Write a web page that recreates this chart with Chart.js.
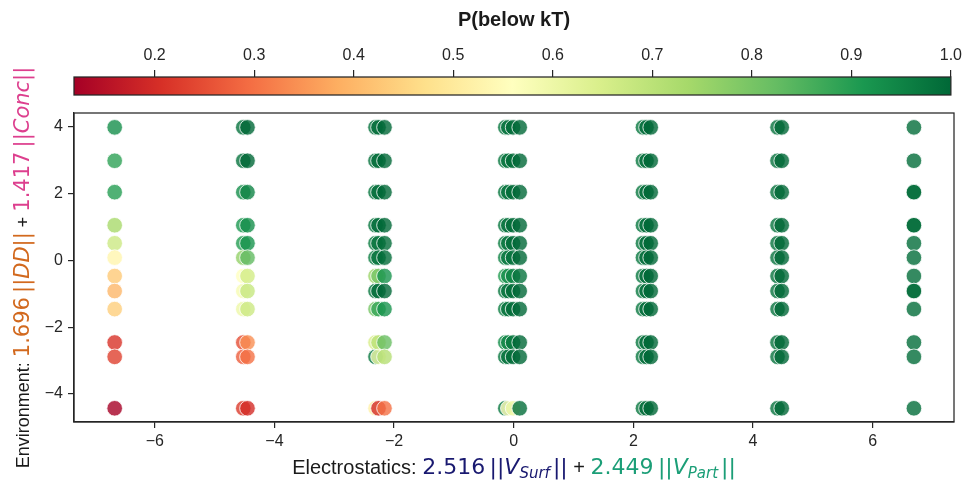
<!DOCTYPE html>
<html>
<head>
<meta charset="utf-8">
<script src="https://cdn.jsdelivr.net/npm/chart.js@4.4.1/dist/chart.umd.min.js"></script>
<style>
html, body { margin: 0; padding: 0; background: #fff; }
#wrap { position: relative; width: 967px; height: 481px; }
#mainBox { position: absolute; left: 0; top: 0; width: 967px; height: 481px; }
#cbBox { position: absolute; left: 0; top: 0; width: 967px; height: 100px; z-index: 2; }
</style>
</head>
<body>
<div id="wrap">
  <div id="mainBox"><canvas id="main"></canvas></div>
  <div id="cbBox"><canvas id="cb"></canvas></div>
</div>
<script>
// livelli y (dall'alto in basso)
const yLevels = [3.98, 2.98, 2.04, 1.05, 0.51, 0.08, -0.47, -0.92, -1.46, -2.46, -2.89, -4.43];

// posizioni x dei punti (ordinate, il piu' a destra viene disegnato sopra)
const xPositions = [-6.67, -4.52, -4.45, -2.31, -2.26, -2.16, -0.14, -0.09, -0.01, 0.10,
                    2.16, 2.22, 2.29, 4.41, 4.48, 6.69, 6.69];

// P(below kT) per ogni posizione x, un valore per livello y (null = nessun punto)
const pBelow = [
  [0.93, 0.89, 0.90, 0.73, 0.67, 0.53, 0.43, 0.40, 0.44, 0.21, 0.23, 0.12],
  [0.98, 0.98, 0.93, 0.91, 0.90, 0.76, 0.56, 0.58, 0.60, 0.25, 0.27, 0.22],
  [1.00, 1.00, 0.95, 0.93, 0.92, 0.83, 0.66, 0.68, 0.67, 0.34, 0.30, 0.20],
  [0.98, 0.98, 0.97, 0.97, 0.96, 0.96, 0.75, 0.97, 0.80, 0.65, 0.97, 0.52],
  [0.99, 0.99, 0.99, 0.99, 0.98, 0.98, 0.80, 0.99, 0.88, 0.70, 0.60, 0.20],
  [1.00, 1.00, 1.00, 1.00, 0.99, 0.99, 0.92, 1.00, 0.92, 0.82, 0.71, 0.30],
  [0.97, 0.97, 0.97, 0.97, 0.96, 0.95, 0.90, 0.97, 0.96, 0.93, 0.97, 0.97],
  [0.98, 0.98, 0.98, 0.98, 0.98, 0.97, 0.93, 0.98, 0.98, 0.95, 0.98, 0.55],
  [0.99, 0.99, 0.99, 0.99, 0.99, 0.98, 0.95, 0.99, 0.99, 0.97, 0.99, 0.60],
  [1.00, 1.00, 1.00, 1.00, 1.00, 1.00, 0.98, 1.00, 1.00, 1.00, 1.00, 0.99],
  [0.97, 0.97, 0.97, 0.97, 0.97, 0.97, 0.97, 0.97, 0.97, 0.97, 0.97, 0.97],
  [0.99, 0.99, 0.99, 0.99, 0.99, 0.99, 0.99, 0.99, 0.99, 0.99, 0.99, 0.99],
  [1.00, 1.00, 1.00, 1.00, 1.00, 1.00, 1.00, 1.00, 1.00, 1.00, 1.00, 1.00],
  [0.98, 0.98, 0.98, 0.98, 0.98, 0.98, 0.98, 0.98, 0.98, 0.98, 0.98, 0.98],
  [1.00, 1.00, 1.00, 1.00, 1.00, 1.00, 1.00, 1.00, 1.00, 1.00, 1.00, 1.00],
  [0.99, 0.99, 0.99, 0.99, 0.99, 0.99, 0.99, 0.99, 0.99, 0.99, 0.99, 0.99],
  [null, null, 0.99, 0.99, null, null, null, 0.99, null, null, null, null]
];

const xTicks = [-6, -4, -2, 0, 2, 4, 6];
const yTicks = [-4, -2, 0, 2, 4];
const cbTicks = [0.2, 0.3, 0.4, 0.5, 0.6, 0.7, 0.8, 0.9, 1.0];
const pMin = 0.119;
const pMax = 1.0;

// colormap RdYlGn
const rdylgn = [
  [165, 0, 38], [215, 48, 39], [244, 109, 67], [253, 174, 97], [254, 224, 139],
  [255, 255, 191], [217, 239, 139], [166, 217, 106], [102, 189, 99], [26, 152, 80], [0, 104, 55]
];

function cmap(t, alpha) {
  t = Math.max(0, Math.min(1, t));
  const f = t * (rdylgn.length - 1);
  const i = Math.min(Math.floor(f), rdylgn.length - 2);
  const k = f - i;
  const a = rdylgn[i], b = rdylgn[i + 1];
  const c = a.map((v, j) => Math.round(v + (b[j] - v) * k));
  return 'rgba(' + c[0] + ',' + c[1] + ',' + c[2] + ',' + alpha + ')';
}

function colorOf(p) {
  return cmap((p - pMin) / (pMax - pMin), 0.8);
}

const points = [];
xPositions.forEach((x, i) => {
  yLevels.forEach((y, j) => {
    const p = pBelow[i][j];
    if (p !== null) points.push({ x: x, y: y, p: p });
  });
});

const tickFont = { family: '"Liberation Sans", Arial, sans-serif', size: 16 };
const axisColor = '#262626';

function minusLabel(v) {
  return v < 0 ? '\u2212' + Math.abs(v) : String(v);
}

function drawRich(ctx, parts, cx, cy) {
  let total = 0;
  parts.forEach(p => {
    ctx.font = p.font;
    p.w = ctx.measureText(p.text).width;
    total += p.w;
  });
  let x = cx - total / 2;
  ctx.textAlign = 'left';
  ctx.textBaseline = 'alphabetic';
  parts.forEach(p => {
    ctx.font = p.font;
    ctx.fillStyle = p.color;
    ctx.fillText(p.text, x, cy + (p.dy || 0));
    x += p.w;
  });
}

const xSans = '20px "Liberation Sans", Arial, sans-serif';
const xMath = '22px "DejaVu Sans", sans-serif';
const xMathIt = 'oblique 22px "DejaVu Sans", sans-serif';
const xSub = 'oblique 15px "DejaVu Sans", sans-serif';
const ySans = '18px "Liberation Sans", Arial, sans-serif';
const yMath = '21px "DejaVu Sans", sans-serif';
const yMathIt = 'oblique 21px "DejaVu Sans", sans-serif';

const xTitleParts = [
  { text: 'Electrostatics: ', color: '#1a1a1a', font: xSans },
  { text: '2.516\u2009||', color: '#191970', font: xMath },
  { text: 'V', color: '#191970', font: xMathIt },
  { text: 'Surf\u2009', color: '#191970', font: xSub, dy: 4 },
  { text: '||', color: '#191970', font: xMath },
  { text: ' + ', color: '#1a1a1a', font: xSans },
  { text: '2.449\u2009||', color: '#1b9e77', font: xMath },
  { text: 'V', color: '#1b9e77', font: xMathIt },
  { text: 'Part\u2009', color: '#1b9e77', font: xSub, dy: 4 },
  { text: '||', color: '#1b9e77', font: xMath }
];

const yTitleParts = [
  { text: 'Environment: ', color: '#1a1a1a', font: ySans },
  { text: '1.696\u2009||', color: '#d2691e', font: yMath },
  { text: 'DD', color: '#d2691e', font: yMathIt },
  { text: '||', color: '#d2691e', font: yMath },
  { text: ' + ', color: '#1a1a1a', font: ySans },
  { text: '1.417\u2009||', color: '#dd3f8e', font: yMath },
  { text: 'Conc', color: '#dd3f8e', font: yMathIt },
  { text: '||', color: '#dd3f8e', font: yMath }
];

// cornice e titoli degli assi
const framePlugin = {
  id: 'frame',
  afterDraw(chart) {
    const ctx = chart.ctx;
    const a = chart.chartArea;
    ctx.save();
    ctx.strokeStyle = axisColor;
    ctx.lineWidth = 1.25;
    ctx.strokeRect(a.left, a.top, a.right - a.left, a.bottom - a.top);
    drawRich(ctx, xTitleParts, (a.left + a.right) / 2, a.bottom + 52);
    ctx.translate(29, (a.top + a.bottom) / 2);
    ctx.rotate(-Math.PI / 2);
    drawRich(ctx, yTitleParts, 0, 0);
    ctx.restore();
  }
};

// barra dei colori
const gradientPlugin = {
  id: 'gradient',
  beforeDatasetsDraw(chart) {
    const ctx = chart.ctx;
    const a = chart.chartArea;
    const g = ctx.createLinearGradient(a.left, 0, a.right, 0);
    rdylgn.forEach((c, i) => g.addColorStop(i / (rdylgn.length - 1), cmap(i / (rdylgn.length - 1), 1)));
    ctx.save();
    ctx.fillStyle = g;
    ctx.fillRect(a.left, a.top, a.right - a.left, a.bottom - a.top);
    ctx.strokeStyle = axisColor;
    ctx.lineWidth = 1.25;
    ctx.strokeRect(a.left, a.top, a.right - a.left, a.bottom - a.top);
    ctx.font = 'bold 20px "Liberation Sans", Arial, sans-serif';
    ctx.fillStyle = '#1a1a1a';
    ctx.textAlign = 'center';
    ctx.textBaseline = 'middle';
    ctx.fillText('P(below kT)', 514, 20);
    ctx.restore();
  }
};

const cbChart = new Chart(document.getElementById('cb').getContext('2d'), {
  type: 'scatter',
  data: { datasets: [{ data: [] }] },
  options: {
    responsive: true,
    maintainAspectRatio: false,
    animation: false,
    events: [],
    layout: { padding: { top: 30, left: 74, right: 13, bottom: 5 } },
    plugins: { legend: { display: false }, tooltip: { enabled: false } },
    scales: {
      x: {
        type: 'linear',
        position: 'top',
        min: pMin,
        max: pMax,
        afterBuildTicks: s => { s.ticks = cbTicks.map(v => ({ value: v })); },
        afterFit: s => { s.height = 47; },
        ticks: { font: tickFont, color: axisColor, padding: 5, maxRotation: 0,
                 callback: v => v.toFixed(1) },
        grid: { drawOnChartArea: false, tickLength: 7, color: axisColor, lineWidth: 1.2 },
        border: { display: false }
      },
      y: { display: false, min: 0, max: 1 }
    }
  },
  plugins: [gradientPlugin]
});

const mainChart = new Chart(document.getElementById('main').getContext('2d'), {
  type: 'scatter',
  data: {
    datasets: [{
      data: points,
      backgroundColor: ctx => ctx.raw ? colorOf(ctx.raw.p) : 'rgba(0,0,0,0)',
      borderColor: 'rgba(255,255,255,0.8)',
      borderWidth: 1,
      pointRadius: 7.8,
      pointHoverRadius: 7.8
    }]
  },
  options: {
    responsive: true,
    maintainAspectRatio: false,
    animation: false,
    layout: { padding: { top: 113, left: 0, right: 13, bottom: 0 } },
    plugins: { legend: { display: false }, tooltip: { enabled: false } },
    scales: {
      x: {
        type: 'linear',
        min: -7.35,
        max: 7.36,
        afterBuildTicks: s => { s.ticks = xTicks.map(v => ({ value: v })); },
        afterFit: s => { s.height = 59; },
        ticks: { font: tickFont, color: axisColor, padding: 4, maxRotation: 0, callback: minusLabel },
        grid: { drawOnChartArea: false, tickLength: 6, color: axisColor, lineWidth: 1.2 },
        border: { color: axisColor, width: 1.25 }
      },
      y: {
        type: 'linear',
        min: -4.84,
        max: 4.41,
        afterBuildTicks: s => { s.ticks = yTicks.map(v => ({ value: v })); },
        afterFit: s => { s.width = 74; },
        ticks: { font: tickFont, color: axisColor, padding: 5, callback: minusLabel },
        grid: { drawOnChartArea: false, tickLength: 6, color: axisColor, lineWidth: 1.2 },
        border: { color: axisColor, width: 1.25 }
      }
    }
  },
  plugins: [framePlugin]
});
</script>
</body>
</html>
